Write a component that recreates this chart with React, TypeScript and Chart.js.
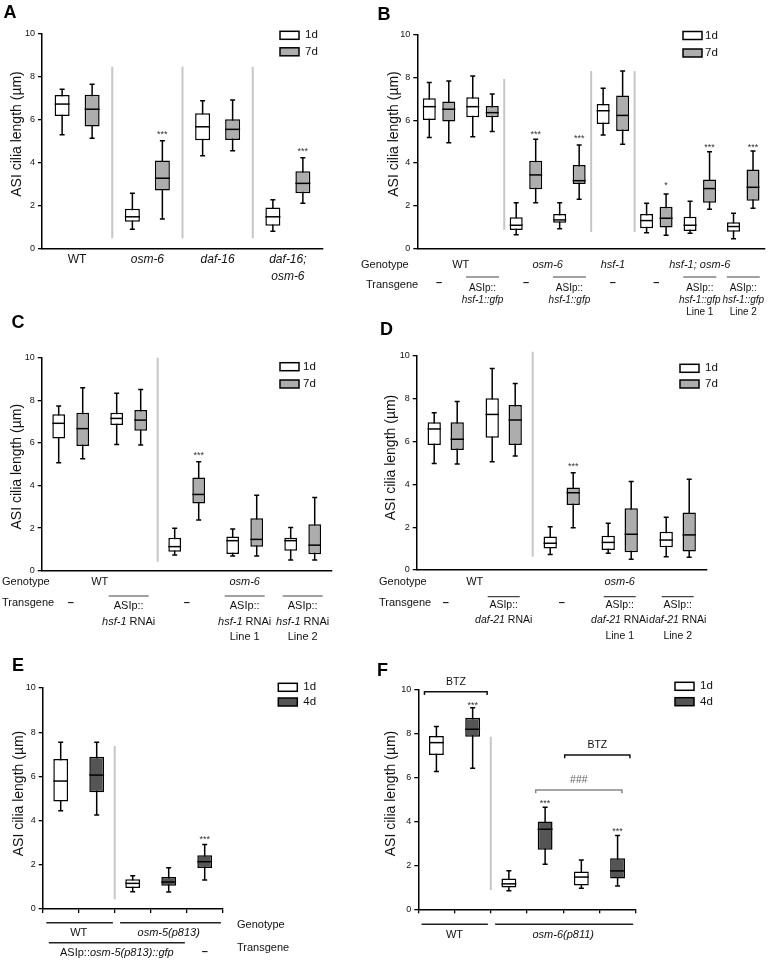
import React, { useEffect, useRef } from 'react';
import { Chart, registerables } from 'chart.js';

Chart.register(...registerables);

const FONT = '"Liberation Sans", Arial, Helvetica, sans-serif';
Chart.defaults.font.family = FONT;

const C_WHITE = '#ffffff';
const C_GRAY = '#adadad';
const C_DARK = '#555555';

// ---------- text / tick data ----------
const Y_TITLE = 'ASI cilia length (µm)';
const Y_TICKS = [0, 2, 4, 6, 8, 10];
const LETTERS = ['A', 'B', 'C', 'D', 'E', 'F'];
const LEG_7 = ['1d', '7d'];
const LEG_4 = ['1d', '4d'];
const ROWS = ['Genotype', 'Transgene'];

// five-number summaries: [min, q1, median, q3, max]
const A_cats = ['WT', 'osm-6', 'daf-16', 'daf-16; osm-6'];
const A_labels = ['WT', '*osm-6*', '*daf-16*', '*daf-16;*\n*osm-6*'];
const A_1d = [
  [5.3, 6.17, 6.73, 7.15, 7.42],
  [0.89, 1.24, 1.47, 1.85, 2.57],
  [4.32, 5.04, 5.67, 6.3, 6.89],
  [0.8, 1.05, 1.47, 1.9, 2.27],
];
const A_7d = [
  [5.13, 5.68, 6.49, 7.17, 7.65],
  [1.37, 2.7, 3.27, 4.1, 5.02],
  [4.55, 5.05, 5.55, 6.02, 6.92],
  [2.1, 2.57, 3.03, 3.6, 4.23],
];

const B_cats = ['WT', 'WT ASIp::hsf-1::gfp', 'osm-6', 'osm-6 ASIp::hsf-1::gfp', 'hsf-1', 'hsf-1; osm-6', 'hsf-1; osm-6 Line 1', 'hsf-1; osm-6 Line 2'];
const B_genotype = ['WT', '*osm-6*', '*hsf-1*', '*hsf-1; osm-6*'];
const B_transgene = ['–', 'ASIp::\n*hsf-1::gfp*', '–', 'ASIp::\n*hsf-1::gfp*', '–', '–', 'ASIp::\n*hsf-1::gfp*\nLine 1', 'ASIp::\n*hsf-1::gfp*\nLine 2'];
const B_1d = [
  [5.2, 6.02, 6.64, 7.03, 7.77],
  [5.23, 6.14, 6.64, 7.08, 8.08],
  [0.63, 0.86, 1.08, 1.45, 2.14],
  [0.92, 1.2, 1.33, 1.61, 2.14],
  [5.31, 5.83, 6.45, 6.77, 7.5],
  [0.73, 0.94, 1.3, 1.61, 2.11],
  [0.7, 0.81, 1.08, 1.48, 2.2],
  [0.45, 0.78, 1.02, 1.22, 1.64],
];
const B_7d = [
  [4.95, 5.94, 6.52, 6.88, 7.84],
  [5.47, 6.14, 6.36, 6.67, 7.23],
  [2.14, 2.77, 3.44, 4.11, 5.11],
  [2.3, 3.02, 3.17, 3.91, 4.84],
  [4.88, 5.5, 6.23, 7.16, 8.31],
  [0.61, 0.98, 1.41, 1.95, 2.55],
  [1.83, 2.14, 2.8, 3.23, 4.53],
  [1.88, 2.23, 2.86, 3.7, 4.56],
];

const C_cats = ['WT', 'WT hsf-1 RNAi', 'osm-6', 'osm-6 Line 1', 'osm-6 Line 2'];
const C_genotype = ['WT', '*osm-6*'];
const C_transgene = ['–', 'ASIp::\n*hsf-1* RNAi', '–', 'ASIp::\n*hsf-1* RNAi\nLine 1', 'ASIp::\n*hsf-1* RNAi\nLine 2'];
const C_1d = [
  [5.07, 6.21, 6.92, 7.34, 7.73],
  [5.93, 6.84, 7.15, 7.42, 8.33],
  [0.74, 0.89, 1.13, 1.55, 1.99],
  [0.69, 0.78, 1.41, 1.6, 1.96],
  [0.5, 0.94, 1.41, 1.55, 2.03],
];
const C_7d = [
  [5.26, 5.85, 6.67, 7.42, 8.59],
  [5.9, 6.57, 7.07, 7.54, 8.51],
  [2.38, 3.16, 3.58, 4.38, 5.12],
  [0.69, 1.13, 1.47, 2.46, 3.54],
  [0.5, 0.77, 1.2, 2.18, 3.44],
];

const D_cats = ['WT', 'WT daf-21 RNAi', 'osm-6', 'osm-6 Line 1', 'osm-6 Line 2'];
const D_genotype = ['WT', '*osm-6*'];
const D_transgene = ['–', 'ASIp::\n*daf-21* RNAi', '–', 'ASIp::\n*daf-21* RNAi\nLine 1', 'ASIp::\n*daf-21* RNAi\nLine 2'];
const D_1d = [
  [4.98, 5.84, 6.59, 6.9, 7.35],
  [5.06, 6.18, 7.27, 8.02, 9.42],
  [0.73, 1.01, 1.25, 1.56, 2.02],
  [0.78, 0.93, 1.29, 1.6, 2.18],
  [0.62, 1.06, 1.4, 1.79, 2.46],
];
const D_7d = [
  [4.95, 5.61, 6.11, 6.9, 7.87],
  [5.33, 5.84, 7.01, 7.71, 8.72],
  [1.98, 3.04, 3.61, 3.86, 4.55],
  [0.5, 0.83, 1.67, 2.88, 4.13],
  [0.59, 0.86, 1.64, 2.69, 4.24],
];

const E_cats = ['WT 1d', 'WT 4d', 'osm-5 1d', 'osm-5 4d', 'osm-5 4d (no transgene)'];
const E_genotype = ['WT', '*osm-5(p813)*'];
const E_transgene = ['ASIp::*osm-5(p813)::gfp*', '–'];
const E_1d = [[4.45, 4.86, 5.79, 6.79, 7.55], null, [0.78, 0.95, 1.16, 1.35, 1.5], null, null];
const E_4d = [null, [4.25, 5.28, 6.06, 6.89, 7.55], null, [0.77, 1.05, 1.22, 1.45, 1.87], [1.31, 1.86, 2.14, 2.43, 2.92]];

const F_cats = ['WT 1d', 'WT 4d', 'osm-6 1d', 'osm-6 4d', 'osm-6 BTZ 1d', 'osm-6 BTZ 4d'];
const F_genotype = ['WT', '*osm-6(p811)*'];
const F_marks = ['BTZ', 'BTZ', '###'];
const F_1d = [[6.28, 7.04, 7.6, 7.9, 8.33], null, [0.85, 0.99, 1.16, 1.41, 1.76], null, [0.96, 1.09, 1.47, 1.72, 2.25], null];
const F_4d = [null, [6.43, 7.87, 8.21, 8.74, 9.19], null, [2.05, 2.71, 3.65, 4.0, 4.65], null, [1.06, 1.4, 1.75, 2.33, 3.37]];

// ---------- types ----------
type Stat = number[] | null;
type Txt = { x: number; px?: boolean; y?: number; v?: number; s: string; size?: number; align?: CanvasTextAlign; bold?: boolean; color?: string };
type HLine = { x1?: number; x2?: number; c?: number; half?: number; y: number; color?: string; w?: number };
type Bracket = { x1: number; x2: number; v: number; drop: number; color: string };
type Star = { ds: number; i: number; v: number; t: string };
type PanelCfg = {
  box: { left: number; top: number; width: number; height: number };
  area: { l: number; t: number; r: number; b: number };
  cats: string[];
  series: { label: string; color: string; stats: Stat[] }[];
  grouped: boolean;
  catPct: number;
  barPct: number;
  xTicks: boolean;
  title: { x: number; y: number };
  letter: { t: string; x: number; y: number };
  seps: { at: number; from: number; to: number }[];
  stars: Star[];
  legend: { x: number; rows: number[]; tx: number };
  texts: Txt[];
  lines: HLine[];
  brackets: Bracket[];
};

// ---------- helpers ----------
function drawRich(ctx: CanvasRenderingContext2D, str: string, x: number, y: number, size: number, align: CanvasTextAlign, bold: boolean, color: string) {
  const segs = str.split('*').map((t, i) => ({ t, it: i % 2 === 1, w: 0 })).filter((s) => s.t.length > 0);
  const fontFor = (it: boolean) => `${it ? 'italic ' : ''}${bold ? 'bold ' : ''}${size}px ${FONT}`;
  let total = 0;
  segs.forEach((s) => {
    ctx.font = fontFor(s.it);
    s.w = ctx.measureText(s.t).width;
    total += s.w;
  });
  let cx = align === 'left' ? x : align === 'right' ? x - total : x - total / 2;
  ctx.textBaseline = 'middle';
  ctx.textAlign = 'left';
  ctx.fillStyle = color;
  segs.forEach((s) => {
    ctx.font = fontFor(s.it);
    ctx.fillText(s.t, cx, y);
    cx += s.w;
  });
}

function labelRows(o: {
  namePx: number[]; genoY: number; tgY: number; genotype: string[]; genoPos: number[];
  transgene: string[]; dashY: number; olY: number; olHalf: number; firstY: number; gap: number; tgSize: number;
}) {
  const texts: Txt[] = [];
  const lines: HLine[] = [];
  texts.push({ x: o.namePx[0], px: true, y: o.genoY, s: ROWS[0], align: 'left' });
  texts.push({ x: o.namePx[1], px: true, y: o.tgY, s: ROWS[1], align: 'left' });
  o.genotype.forEach((g, k) => texts.push({ x: o.genoPos[k], y: o.genoY, s: g }));
  o.transgene.forEach((t, j) => {
    if (t === '–') {
      texts.push({ x: j, y: o.dashY, s: t, bold: true });
      return;
    }
    lines.push({ c: j, half: o.olHalf, y: o.olY, color: '#444', w: 1.2 });
    t.split('\n').forEach((ln, m) => texts.push({ x: j, y: o.firstY + m * o.gap, s: ln, size: o.tgSize }));
  });
  return { texts, lines };
}

function makePlugin(cfg: PanelCfg) {
  return {
    id: 'annot',
    beforeDatasetsDraw(chart: any) {
      const ctx: CanvasRenderingContext2D = chart.ctx;
      const xs = chart.scales.x;
      const ys = chart.scales.y;
      ctx.save();
      ctx.strokeStyle = '#c6c6c6';
      ctx.lineWidth = 2;
      for (const s of cfg.seps) {
        const x = xs.getPixelForValue(s.at);
        ctx.beginPath();
        ctx.moveTo(x, ys.getPixelForValue(s.from));
        ctx.lineTo(x, ys.getPixelForValue(s.to));
        ctx.stroke();
      }
      ctx.strokeStyle = '#000';
      ctx.lineWidth = 1.5;
      cfg.series.forEach((ser, di) => {
        const meta = chart.getDatasetMeta(di);
        ser.stats.forEach((v, j) => {
          if (!v) return;
          const el = meta.data[j];
          const x = el.x;
          const yl = ys.getPixelForValue(v[0]);
          const yh = ys.getPixelForValue(v[4]);
          const cap = 2.5;
          ctx.beginPath();
          ctx.moveTo(x, yl);
          ctx.lineTo(x, yh);
          ctx.moveTo(x - cap, yl);
          ctx.lineTo(x + cap, yl);
          ctx.moveTo(x - cap, yh);
          ctx.lineTo(x + cap, yh);
          ctx.stroke();
        });
      });
      ctx.restore();
    },
    afterDraw(chart: any) {
      const ctx: CanvasRenderingContext2D = chart.ctx;
      const xs = chart.scales.x;
      const ys = chart.scales.y;
      ctx.save();
      // medians
      ctx.strokeStyle = '#000';
      ctx.lineWidth = 1.5;
      cfg.series.forEach((ser, di) => {
        const meta = chart.getDatasetMeta(di);
        ser.stats.forEach((v, j) => {
          if (!v) return;
          const el = meta.data[j];
          const ym = ys.getPixelForValue(v[2]);
          ctx.beginPath();
          ctx.moveTo(el.x - el.width / 2, ym);
          ctx.lineTo(el.x + el.width / 2, ym);
          ctx.stroke();
        });
      });
      // significance stars
      for (const st of cfg.stars) {
        const el = chart.getDatasetMeta(st.ds).data[st.i];
        ctx.font = `9px ${FONT}`;
        ctx.fillStyle = '#333';
        ctx.textAlign = 'center';
        ctx.textBaseline = 'alphabetic';
        ctx.fillText(st.t, el.x, ys.getPixelForValue(st.v) + 5);
      }
      // brackets
      for (const b of cfg.brackets) {
        const x1 = xs.getPixelForValue(b.x1);
        const x2 = xs.getPixelForValue(b.x2);
        const y = ys.getPixelForValue(b.v);
        const yd = ys.getPixelForValue(b.v - b.drop);
        ctx.strokeStyle = b.color;
        ctx.lineWidth = 1.5;
        ctx.beginPath();
        ctx.moveTo(x1, yd);
        ctx.lineTo(x1, y);
        ctx.lineTo(x2, y);
        ctx.lineTo(x2, yd);
        ctx.stroke();
      }
      // horizontal lines below the axis
      for (const l of cfg.lines) {
        let x1: number;
        let x2: number;
        if (l.c !== undefined) {
          const c = xs.getPixelForValue(l.c);
          x1 = c - (l.half || 0);
          x2 = c + (l.half || 0);
        } else {
          x1 = xs.getPixelForValue(l.x1);
          x2 = xs.getPixelForValue(l.x2);
        }
        ctx.strokeStyle = l.color || '#222';
        ctx.lineWidth = l.w || 1.5;
        ctx.beginPath();
        ctx.moveTo(x1, l.y);
        ctx.lineTo(x2, l.y);
        ctx.stroke();
      }
      // texts
      for (const t of cfg.texts) {
        const x = t.px ? t.x : xs.getPixelForValue(t.x);
        const y = t.v !== undefined ? ys.getPixelForValue(t.v) : (t.y as number);
        drawRich(ctx, t.s, x, y, t.size || 11, t.align || 'center', !!t.bold, t.color || '#111');
      }
      // legend
      cfg.series.forEach((ser, i) => {
        const y = cfg.legend.rows[i];
        ctx.fillStyle = ser.color;
        ctx.fillRect(cfg.legend.x, y - 4, 19, 8);
        ctx.strokeStyle = '#000';
        ctx.lineWidth = 1.5;
        ctx.strokeRect(cfg.legend.x, y - 4, 19, 8);
        drawRich(ctx, ser.label, cfg.legend.tx, y, 11.5, 'left', false, '#111');
      });
      // y title
      ctx.save();
      ctx.translate(cfg.title.x, cfg.title.y);
      ctx.rotate(-Math.PI / 2);
      ctx.font = `14px ${FONT}`;
      ctx.fillStyle = '#111';
      ctx.textAlign = 'center';
      ctx.textBaseline = 'middle';
      ctx.fillText(Y_TITLE, 0, 0);
      ctx.restore();
      // panel letter
      ctx.font = `bold 18px ${FONT}`;
      ctx.fillStyle = '#000';
      ctx.textAlign = 'center';
      ctx.textBaseline = 'middle';
      ctx.fillText(cfg.letter.t, cfg.letter.x, cfg.letter.y);
      ctx.restore();
    },
  };
}

function buildChart(canvas: HTMLCanvasElement, cfg: PanelCfg) {
  const { area, box } = cfg;
  return new Chart(canvas, {
    type: 'bar',
    data: {
      labels: cfg.cats,
      datasets: cfg.series.map((s) => ({
        label: s.label,
        data: s.stats.map((v) => (v ? [v[1], v[3]] : null)) as any,
        backgroundColor: s.color,
        borderColor: '#000',
        borderWidth: 1.5,
        borderSkipped: false,
        grouped: cfg.grouped,
        categoryPercentage: cfg.catPct,
        barPercentage: cfg.barPct,
      })),
    },
    options: {
      responsive: false,
      animation: false,
      events: [],
      layout: { padding: { left: 0, top: area.t, right: box.width - area.r, bottom: box.height - area.b } },
      plugins: { legend: { display: false }, tooltip: { enabled: false } },
      scales: {
        x: {
          type: 'category',
          offset: true,
          ticks: { display: false },
          grid: { display: cfg.xTicks, offset: true, drawOnChartArea: false, drawTicks: true, tickLength: 4, color: '#000', lineWidth: 1.3 },
          border: { display: true, color: '#000', width: 1.5 },
          afterFit: (s: any) => { s.height = 0; },
        },
        y: {
          min: Y_TICKS[0],
          max: Y_TICKS[Y_TICKS.length - 1],
          ticks: { stepSize: Y_TICKS[1] - Y_TICKS[0], font: { size: 9, family: FONT }, color: '#111', padding: 3 },
          grid: { drawOnChartArea: false, drawTicks: true, tickLength: 4, color: '#000', lineWidth: 1.3 },
          border: { display: true, color: '#000', width: 1.5 },
          afterFit: (s: any) => { s.width = area.l; },
        },
      },
    } as any,
    plugins: [makePlugin(cfg)],
  });
}

// ---------- panel layouts ----------
const aTexts: Txt[] = [];
A_labels.forEach((l, k) => l.split('\n').forEach((ln, m) => aTexts.push({ x: k, y: 260 + m * 17, s: ln, size: 12 })));

const panelA: PanelCfg = {
  box: { left: 0, top: 0, width: 385, height: 310 },
  area: { l: 42, t: 34, r: 323, b: 248.3 },
  cats: A_cats,
  series: [
    { label: LEG_7[0], color: C_WHITE, stats: A_1d },
    { label: LEG_7[1], color: C_GRAY, stats: A_7d },
  ],
  grouped: true, catPct: 0.854, barPct: 0.5, xTicks: false,
  title: { x: 17, y: 134 },
  letter: { t: LETTERS[0], x: 10, y: 13 },
  seps: [{ at: 0.5, from: 0.47, to: 8.47 }, { at: 1.5, from: 0.47, to: 8.47 }, { at: 2.5, from: 0.47, to: 8.47 }],
  stars: [{ ds: 1, i: 1, v: 5.44, t: '***' }, { ds: 1, i: 3, v: 4.63, t: '***' }],
  legend: { x: 280, rows: [35.3, 51.8], tx: 305 },
  texts: aTexts,
  lines: [],
  brackets: [],
};

const bRows = labelRows({
  namePx: [6, 11], genoY: 265, tgY: 285, genotype: B_genotype, genoPos: [0.5, 2.5, 4, 6],
  transgene: B_transgene, dashY: 283, olY: 277, olHalf: 16.5, firstY: 288, gap: 12, tgSize: 10,
});
const panelB: PanelCfg = {
  box: { left: 355, top: 0, width: 422, height: 322 },
  area: { l: 62.3, t: 35, r: 410, b: 248.3 },
  cats: B_cats,
  series: [
    { label: LEG_7[0], color: C_WHITE, stats: B_1d },
    { label: LEG_7[1], color: C_GRAY, stats: B_7d },
  ],
  grouped: true, catPct: 0.897, barPct: 0.667, xTicks: false,
  title: { x: 39, y: 134 },
  letter: { t: LETTERS[1], x: 29, y: 15.5 },
  seps: [{ at: 1.5, from: 0.86, to: 7.94 }, { at: 3.5, from: 0.77, to: 8.31 }, { at: 4.5, from: 0.77, to: 8.31 }],
  stars: [
    { ds: 1, i: 2, v: 5.47, t: '***' }, { ds: 1, i: 3, v: 5.28, t: '***' }, { ds: 1, i: 5, v: 3.08, t: '*' },
    { ds: 1, i: 6, v: 4.84, t: '***' }, { ds: 1, i: 7, v: 4.84, t: '***' },
  ],
  legend: { x: 328, rows: [35.5, 53], tx: 350 },
  texts: bRows.texts,
  lines: bRows.lines,
  brackets: [],
};

const cRows = labelRows({
  namePx: [2, 2], genoY: 271.7, tgY: 293, genotype: C_genotype, genoPos: [0.5, 3],
  transgene: C_transgene, dashY: 293, olY: 286, olHalf: 20, firstY: 296, gap: 15.5, tgSize: 11,
});
const panelC: PanelCfg = {
  box: { left: 0, top: 310, width: 385, height: 330 },
  area: { l: 41.7, t: 47.7, r: 331.7, b: 260.7 },
  cats: C_cats,
  series: [
    { label: LEG_7[0], color: C_WHITE, stats: C_1d },
    { label: LEG_7[1], color: C_GRAY, stats: C_7d },
  ],
  grouped: true, catPct: 0.828, barPct: 0.53, xTicks: false,
  title: { x: 16.7, y: 156.7 },
  letter: { t: LETTERS[2], x: 18, y: 13.5 },
  seps: [{ at: 1.5, from: 0.42, to: 10 }],
  stars: [{ ds: 1, i: 2, v: 5.54, t: '***' }],
  legend: { x: 280, rows: [56.7, 74], tx: 303 },
  texts: cRows.texts,
  lines: cRows.lines,
  brackets: [],
};

const dRows = labelRows({
  namePx: [24, 24], genoY: 271.7, tgY: 293, genotype: D_genotype, genoPos: [0.5, 3],
  transgene: D_transgene, dashY: 293, olY: 286.7, olHalf: 16, firstY: 295, gap: 15.5, tgSize: 10.5,
});
const panelD: PanelCfg = {
  box: { left: 355, top: 310, width: 422, height: 330 },
  area: { l: 61.7, t: 46, r: 351.7, b: 260 },
  cats: D_cats,
  series: [
    { label: LEG_7[0], color: C_WHITE, stats: D_1d },
    { label: LEG_7[1], color: C_GRAY, stats: D_7d },
  ],
  grouped: true, catPct: 0.793, barPct: 0.58, xTicks: false,
  title: { x: 36, y: 147.5 },
  letter: { t: LETTERS[3], x: 31.5, y: 20.5 },
  seps: [{ at: 1.5, from: 0.62, to: 10.2 }],
  stars: [{ ds: 1, i: 2, v: 4.95, t: '***' }],
  legend: { x: 325, rows: [58.3, 74], tx: 350 },
  texts: dRows.texts,
  lines: dRows.lines,
  brackets: [],
};

const panelE: PanelCfg = {
  box: { left: 0, top: 630, width: 385, height: 330 },
  area: { l: 42.7, t: 58, r: 222.7, b: 279 },
  cats: E_cats,
  series: [
    { label: LEG_4[0], color: C_WHITE, stats: E_1d },
    { label: LEG_4[1], color: C_DARK, stats: E_4d },
  ],
  grouped: false, catPct: 1, barPct: 0.41, xTicks: true,
  title: { x: 19, y: 163.5 },
  letter: { t: LETTERS[4], x: 18, y: 36.5 },
  seps: [{ at: 1.5, from: 0.44, to: 7.38 }],
  stars: [{ ds: 1, i: 4, v: 3.25, t: '***' }],
  legend: { x: 278.3, rows: [57.3, 72], tx: 303.3 },
  texts: [
    { x: 237, px: true, y: 295, s: ROWS[0], align: 'left' },
    { x: 237, px: true, y: 318, s: ROWS[1], align: 'left' },
    { x: 0.5, y: 303, s: E_genotype[0] },
    { x: 3, y: 303, s: E_genotype[1] },
    { x: 1.56, y: 322.7, s: E_transgene[0] },
    { x: 4, y: 322, s: E_transgene[1], bold: true },
  ],
  lines: [
    { x1: -0.4, x2: 1.45, y: 292.7 },
    { x1: 1.65, x2: 4.45, y: 292.7 },
    { x1: -0.33, x2: 3.45, y: 312.7 },
  ],
  brackets: [],
};

const panelF: PanelCfg = {
  box: { left: 375, top: 630, width: 402, height: 330 },
  area: { l: 43.3, t: 60, r: 260.7, b: 279.3 },
  cats: F_cats,
  series: [
    { label: LEG_4[0], color: C_WHITE, stats: F_1d },
    { label: LEG_4[1], color: C_DARK, stats: F_4d },
  ],
  grouped: false, catPct: 1, barPct: 0.41, xTicks: true,
  title: { x: 16.5, y: 163.5 },
  letter: { t: LETTERS[5], x: 7.5, y: 41.5 },
  seps: [{ at: 1.5, from: 0.88, to: 7.87 }],
  stars: [{ ds: 1, i: 1, v: 9.42, t: '***' }, { ds: 1, i: 3, v: 4.94, t: '***' }, { ds: 1, i: 5, v: 3.65, t: '***' }],
  legend: { x: 300, rows: [56.3, 71.7], tx: 325 },
  texts: [
    { x: 0.5, y: 305, s: F_genotype[0] },
    { x: 3.5, y: 305, s: F_genotype[1] },
    { x: 0.54, v: 10.38, s: F_marks[0], size: 10.5 },
    { x: 4.44, v: 7.47, s: F_marks[1], size: 10.5 },
    { x: 3.93, v: 5.9, s: F_marks[2], size: 10.5, color: '#666' },
  ],
  lines: [
    { x1: -0.41, x2: 1.42, y: 294.3 },
    { x1: 1.62, x2: 5.43, y: 294.3 },
  ],
  brackets: [
    { x1: -0.33, x2: 1.4, v: 9.92, drop: 0.15, color: '#111' },
    { x1: 3.54, x2: 5.34, v: 7.04, drop: 0.15, color: '#111' },
    { x1: 2.74, x2: 5.12, v: 5.44, drop: 0.15, color: '#888' },
  ],
};

const PANELS = [panelA, panelB, panelC, panelD, panelE, panelF];

function Panel({ cfg }: { cfg: PanelCfg }) {
  const ref = useRef<HTMLCanvasElement>(null);
  useEffect(() => {
    const chart = buildChart(ref.current as HTMLCanvasElement, cfg);
    return () => chart.destroy();
  }, [cfg]);
  const { left, top, width, height } = cfg.box;
  return (
    <canvas
      ref={ref}
      width={width}
      height={height}
      style={{ position: 'absolute', left, top, width, height }}
    />
  );
}

export default function App() {
  return (
    <div style={{ position: 'absolute', left: 0, top: 0, width: 777, height: 960, background: '#fff', overflow: 'hidden' }}>
      {PANELS.map((c, i) => (
        <Panel key={i} cfg={c} />
      ))}
    </div>
  );
}
